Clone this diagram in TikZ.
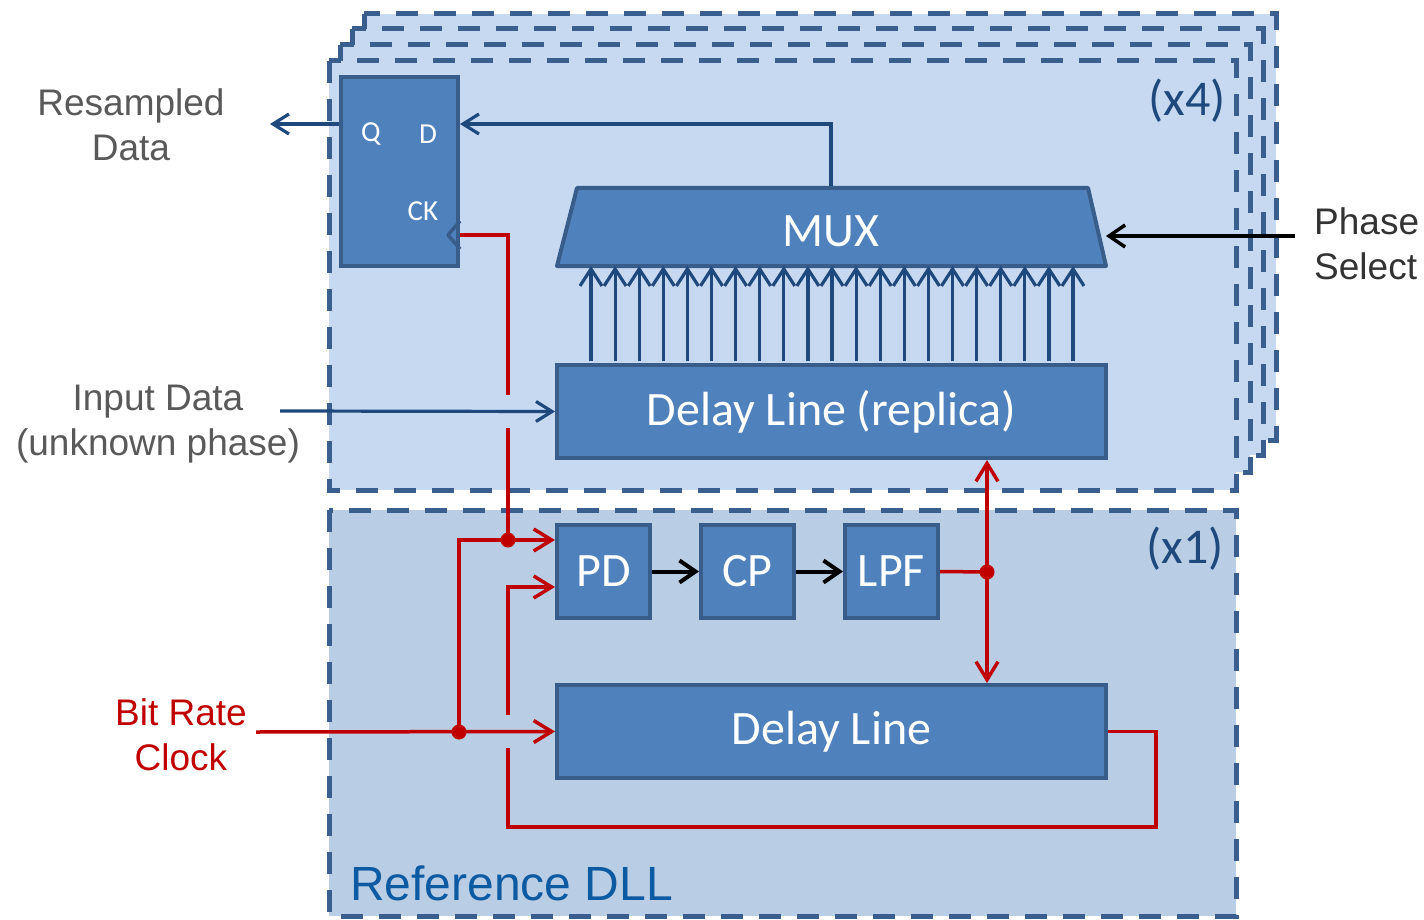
\documentclass[tikz,border=0pt]{standalone}
\usepackage{fontspec}
\setmainfont{Liberation Sans}
\newfontfamily\calfont{Carlito}
\usetikzlibrary{arrows.meta}
\definecolor{boxfill}{HTML}{4F81BD}
\definecolor{boxline}{HTML}{385D8A}
\definecolor{grpA}{HTML}{C6D9F1}
\definecolor{grpB}{HTML}{B9CDE5}
\definecolor{dashc}{HTML}{3A5F8E}
\definecolor{wire}{HTML}{1F497D}
\definecolor{clk}{HTML}{C00000}
\definecolor{txtgrey}{HTML}{595959}
\definecolor{refblue}{HTML}{0B5AA2}
\begin{document}
\begin{tikzpicture}[x=1pt,y=-1pt,
  grp/.style={draw=dashc, line width=5pt, dash pattern=on 22pt off 16pt},
  blk/.style={draw=boxline, fill=boxfill, line width=4pt, text=white, inner sep=0pt,
    font=\calfont\fontsize{48}{52}\selectfont},
  pin/.style={text=white, inner sep=0pt, font=\calfont\fontsize{29}{32}\selectfont},
  lbl/.style={text=txtgrey, align=center, inner sep=0pt, font=\fontsize{37}{45}\selectfont},
  bw/.style={draw=wire, line width=3.2pt},
  bwa/.style={bw, -{Straight Barb[length=16pt,width=20pt]}},
  muxa/.style={bw, -{Straight Barb[length=17pt,width=22pt]}},
  rw/.style={draw=clk, line width=3.5pt},
  rwa/.style={rw, -{Straight Barb[length=18pt,width=22pt]}},
  ka/.style={draw=black, line width=4pt, -{Straight Barb[length=16pt,width=22pt]}},
  jdot/.style={fill=clk},
  cnt/.style={text=wire, inner sep=0pt, font=\calfont\fontsize{50}{54}\selectfont}
]
\useasboundingbox (0,0) rectangle (1424,920);

% stacked (x4) groups
\path[grp, fill=grpA] (364,14) rectangle (1276,440);
\path[grp, fill=grpA] (352,29) rectangle (1263,455);
\path[grp, fill=grpA] (340,45) rectangle (1250,472);
\path[grp, fill=grpA] (329,61) rectangle (1236,490);
% reference DLL group
\path[grp, fill=grpB] (329,510) rectangle (1236,916);

% flip-flop
\node[blk, minimum width=117pt, minimum height=189pt] (ff) at (399.5,171.5) {};
\node[pin] (ffq) at (371,134) {Q};
\node[pin] (ffd) at (428,134) {D};
\node[pin] (ffck) at (423,211) {CK};
\coordinate (ckpin) at (460,235);
\draw[boxline, line width=3.5pt, line join=round] (460,221) -- (448,235) -- (460,249);

% MUX trapezoid
\coordinate (m1) at (577,188);
\coordinate (m2) at (1088,188);
\coordinate (m3) at (1106,266);
\coordinate (m4) at (557,266);
\draw[boxline, fill=boxfill, line width=4pt, line join=round] (m1) -- (m2) -- (m3) -- (m4) -- cycle;
\node[blk, draw=none, fill=none] (mux) at (831,231) {MUX};
\coordinate (muxtop) at (831,186);
\coordinate (muxps) at (1106,236);

% delay line replica
\node[blk, minimum width=549pt, minimum height=93pt] (rep) at (831.5,411.5) {\raisebox{-2pt}{Delay Line (replica)}};

% lower blocks
\node[blk, minimum width=93pt, minimum height=93pt] (pd) at (603.5,571.5) {\raisebox{-2pt}{PD}};
\node[blk, minimum width=93pt, minimum height=93pt] (cp) at (747.5,571.5) {\raisebox{-2pt}{CP}};
\node[blk, minimum width=93pt, minimum height=93pt] (lpf) at (891.5,571.5) {\raisebox{-2pt}{LPF}};
\node[blk, minimum width=549pt, minimum height=93pt] (dl) at (831.5,731.5) {\raisebox{-2pt}{Delay Line}};

% multiplexer input arrows
\foreach \i in {0,...,20}{
  \coordinate (ma\i) at ({591+24.1*\i},361);
  \draw[muxa] (ma\i) -- (ma\i |- m4);
}

% labels
\node[lbl] (resamp) at (131,125) {Resampled\\Data};
\node[lbl] (indata) at (158,424) {Input Data\\(unknown phase)};
\node[lbl, text=clk] (brc) at (181,735) {Bit Rate\\Clock};
\node[lbl, align=left, anchor=west, text=black!80] (phsel) at (1314,244) {Phase\\Select};
\node[cnt] (x4) at (1187,101) {(x4)};
\node[cnt] (x1) at (1185,549) {(x1)};
\node[anchor=west, text=refblue, inner sep=0pt, font=\fontsize{48}{50}\selectfont] (refdll) at (350,883) {Reference DLL};

% blue wires
\coordinate (dpin) at (460,124);
\coordinate (qout) at (270,124);
\coordinate (din) at (280,411);
\draw[bwa] (muxtop) |- (dpin);
\draw[bwa] (ff.west |- dpin) -- (qout);
\draw[bwa] (din) -- (rep.west);

% phase select
\coordinate (ps) at (1295,236);
\draw[ka, line width=3.5pt] (ps) -- (muxps);

% black arrows
\draw[ka] (pd.east) -- (cp.west);
\draw[ka] (cp.east) -- (lpf.west);

% red clock wiring
\coordinate (j1) at (508,540);
\coordinate (j2) at (459,732);
\coordinate (j3) at (987,572);
\coordinate (pdin1) at (555,540);
\coordinate (pdin2) at (555,587);
\coordinate (clkin) at (256,732);
\draw[rw] (ckpin) -- (508,235) -- (508,395);
\draw[rw] (508,428) -- (j1);
\draw[rwa] (j2) |- (pdin1);
\draw[rwa] (clkin) -- (dl.west);
\draw[rw] (lpf.east) -- (j3);
\draw[rwa] (j3) -- (rep.south -| j3);
\draw[rwa] (j3) -- (dl.north -| j3);
\draw[rw] (dl.east) -- (1156,731.5) |- (508,827) -- (508,748);
\draw[rwa] (508,715) |- (pdin2);
\fill[jdot] (j1) circle[radius=7.5pt];
\fill[jdot] (j2) circle[radius=7.5pt];
\fill[jdot] (j3) circle[radius=7.5pt];
\end{tikzpicture}
\end{document}
